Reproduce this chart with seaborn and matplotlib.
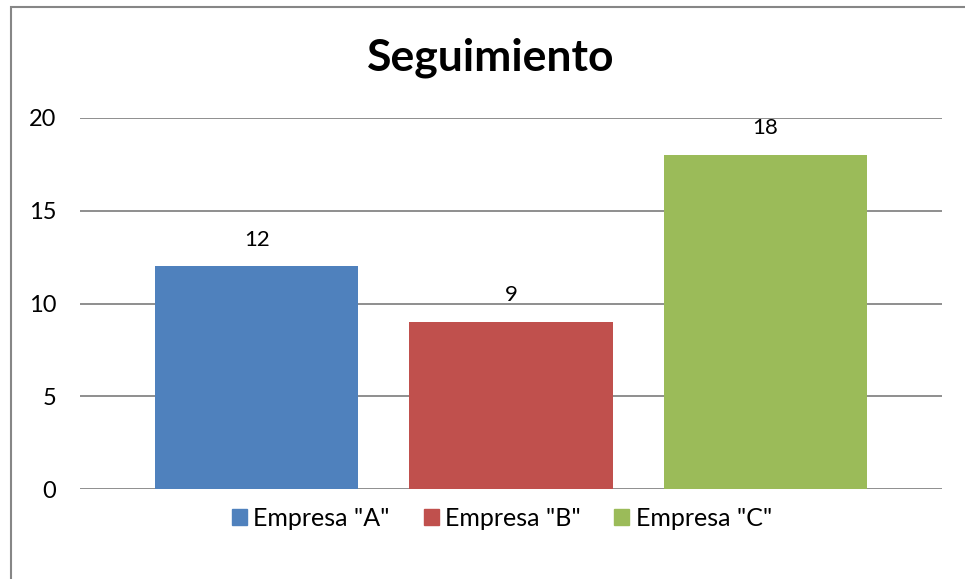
import matplotlib
matplotlib.use('Agg')
import matplotlib.pyplot as plt
from matplotlib.patches import Rectangle
import seaborn as sns
import pandas as pd

# chart data
empresas = ['Empresa "A"', 'Empresa "B"', 'Empresa "C"']
valores = [12, 9, 18]
colores = ['#4F81BD', '#C0504D', '#9BBB59']
yticks = [0, 5, 10, 15, 20]

sns.set_theme(style='white')
plt.rcParams['font.family'] = ['Lato', 'DejaVu Sans']

df = pd.DataFrame({'empresa': empresas, 'valor': valores})

fig = plt.figure(figsize=(9.65, 5.79), dpi=100)
W, H = 965, 579
ax = fig.add_axes([80 / W, 1 - 489 / H, (942 - 80) / W, (489 - 118) / H])

sns.barplot(ax=ax, data=df, x='empresa', y='valor', hue='empresa',
            palette=colores, width=0.8, saturation=1, legend=False,
            linewidth=0, zorder=3)

for c in ax.containers:
    ax.bar_label(c, padding=12, fontsize=16, color='black')

ax.set_ylim(0, 20)
ax.set_xlim(-0.695, 2.695)
ax.set_yticks(yticks)
ax.set_xticks([])
ax.set_xlabel('')
ax.set_ylabel('')
ax.tick_params(axis='y', labelsize=17, pad=17, length=0, colors='black')
for y in yticks:
    ax.axhline(y, color='#868686', lw=1.3, zorder=1)
for s in ax.spines.values():
    s.set_visible(False)

fig.text(491 / W, 1 - 58 / H, 'Seguimiento', ha='center', va='center',
         fontsize=32, fontweight='bold', color='black')

handles = [Rectangle((0, 0), 1, 1, color=c) for c in colores]
fig.legend(handles, empresas, loc='center', bbox_to_anchor=(502 / W, 1 - 518 / H),
           ncol=3, frameon=False, fontsize=18, handlelength=0.6, handleheight=0.6,
           handletextpad=0.25, columnspacing=1.35, labelcolor='black')

fig.patches.append(Rectangle((11 / W, -0.1), 2, 1 - 7 / H + 0.1, fill=False,
                             edgecolor='#868686', lw=1.5, transform=fig.transFigure))

fig.savefig('out.png', dpi=100)
